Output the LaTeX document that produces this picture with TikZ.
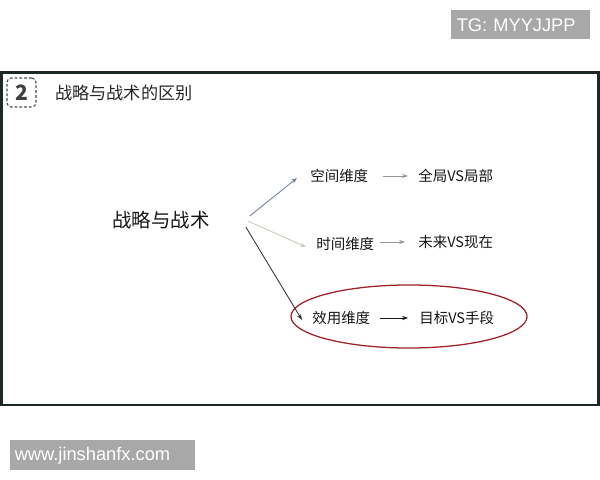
\documentclass[tikz,border=0pt]{standalone}
\usepackage{xcolor}
\usepackage{fontspec}
\setmainfont{Noto Sans CJK SC}
\newfontfamily\markfont{Liberation Sans}
\usepackage{tikz}
\usetikzlibrary{arrows.meta,positioning,calc,shapes.geometric}

\begin{document}
\begin{tikzpicture}[x=0.025cm, y=-0.025cm, >={Stealth[length=4.2pt, width=3pt]}]

    % Define colors
    \definecolor{frameDark}{RGB}{30, 40, 40}
    \definecolor{tagGray}{RGB}{168, 168, 168}
    \definecolor{inkBlack}{RGB}{22, 22, 22}
    \definecolor{spaceBlue}{RGB}{105, 125, 155}
    \definecolor{timeBeige}{RGB}{200, 198, 182}
    \definecolor{useDark}{RGB}{50, 50, 50}
    \definecolor{shortGray}{RGB}{150, 150, 150}
    \definecolor{ringRed}{RGB}{158, 32, 42}

    \tikzset{
        tagbox/.style={fill=tagGray, text=white, inner sep=0pt, anchor=north west,
            font=\markfont\fontsize{13pt}{15pt}\selectfont},
        branch/.style={inner sep=0pt, anchor=west, text=inkBlack,
            font=\fontsize{10.3pt}{12pt}\selectfont},
        link/.style={->, line width=0.6pt},
    }

    \useasboundingbox (0,0) rectangle (600,480);

    % === WATERMARKS ===
    \node[tagbox, minimum width=3.475cm, minimum height=0.725cm, text width=3.2cm, align=left]
        (tg) at (451,10) {TG: MYYJJPP};
    \node[tagbox, minimum width=4.625cm, minimum height=0.75cm, text width=4.4cm, align=left]
        (url) at (10,440) {www.jinshanfx.com};

    % === SLIDE FRAME ===
    \draw[frameDark, line width=1.8pt] (1.5,72.5) rectangle (598.5,405);

    % Section number and title
    \node[draw=black!70, dashed, dash pattern=on 2pt off 1.4pt, line width=0.8pt,
        rounded corners=3pt, minimum width=0.725cm, minimum height=0.725cm,
        inner sep=0pt, text=black!75, font=\bfseries\fontsize{15pt}{16pt}\selectfont]
        (num) at (21.5,92.5) {2};
    \node[anchor=west, inner sep=0pt, text=black!85, font=\fontsize{12.2pt}{14pt}\selectfont]
        (title) at (55,93) {战略与战术的区别};

    % === MAIN TOPIC ===
    \node[inner sep=0pt, text=inkBlack, font=\fontsize{13.8pt}{16pt}\selectfont]
        (main) at (161,220) {战略与战术};

    % === DIMENSIONS ===
    \node[branch] (space) at (310,176) {空间维度};
    \node[branch] (whole) at (418,176) {全局VS局部};
    \node[branch] (time) at (316,244) {时间维度};
    \node[branch] (future) at (418,242) {未来VS现在};
    \node[branch] (use) at (312,318) {效用维度};
    \node[branch] (goal) at (419,318) {目标VS手段};

    % Highlight ring
    \node[ellipse, draw=ringRed, line width=0.9pt, minimum width=5.9cm, minimum height=1.575cm]
        (ring) at (409,316.5) {};

    % === ARROWS ===
    \draw[link, spaceBlue] ($(main.east)+(40,-4)$) -- ($(space.west)+(-13,2)$);
    \draw[link, timeBeige] ($(main.east)+(38,1)$) -- ($(time.west)+(-10,3)$);
    \draw[link, useDark] ($(main.east)+(36,7)$) -- ($(use.west)+(-10,2)$);

    \draw[link, shortGray] ($(whole.west)+(-35,0)$) -- ($(whole.west)+(-10,0)$);
    \draw[link, shortGray] ($(future.west)+(-38,0)$) -- ($(future.west)+(-13,0)$);
    \draw[link, inkBlack, line width=0.5pt] ($(goal.west)+(-39,0)$) -- ($(goal.west)+(-11,0)$);

\end{tikzpicture}
\end{document}
